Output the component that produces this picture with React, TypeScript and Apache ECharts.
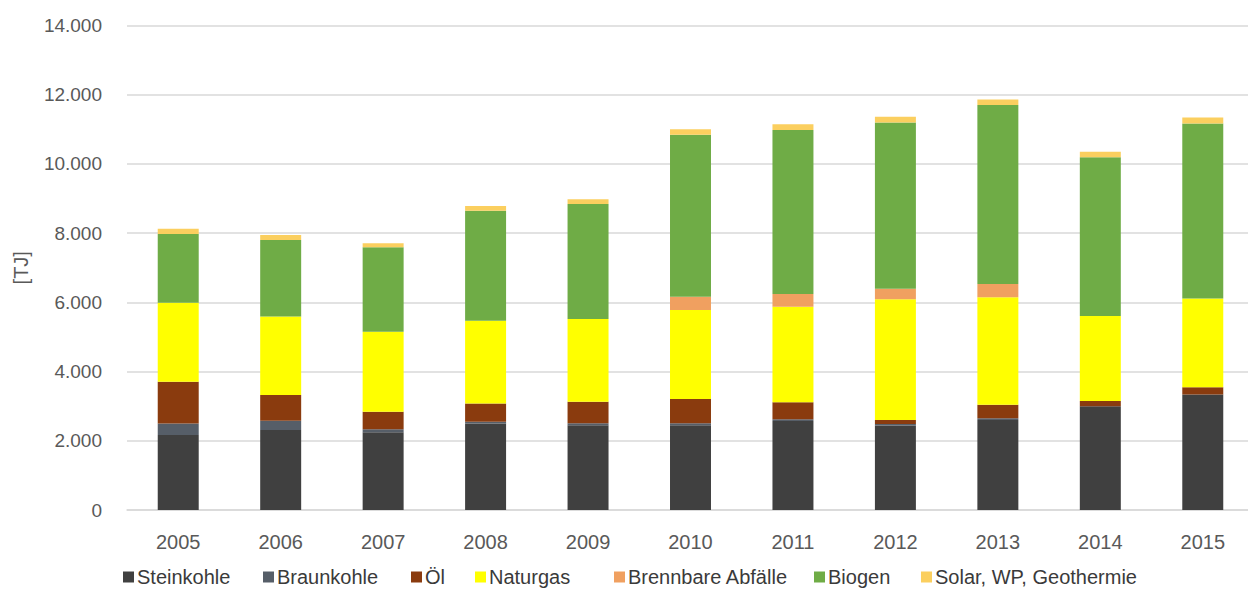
import React, { useEffect, useRef } from "react";
import * as echarts from "echarts";

const years = ["2005", "2006", "2007", "2008", "2009", "2010", "2011", "2012", "2013", "2014", "2015"];
const steinkohle = [2170, 2310, 2250, 2500, 2450, 2450, 2570, 2440, 2600, 3000, 3340];
const braunkohle = [330, 270, 80, 50, 55, 55, 50, 45, 50, 0, 0];
const oel = [1205, 740, 510, 530, 625, 700, 490, 115, 390, 150, 205];
const naturgas = [2285, 2270, 2310, 2390, 2390, 2575, 2765, 3490, 3105, 2455, 2570];
const abfaelle = [0, 0, 0, 0, 0, 385, 365, 305, 385, 0, 0];
const biogen = [1985, 2210, 2440, 3180, 3320, 4675, 4740, 4805, 5170, 4585, 5055];
const solar = [155, 145, 115, 135, 140, 160, 165, 165, 165, 160, 175];

const seriesNames = ["Steinkohle", "Braunkohle", "Öl", "Naturgas", "Brennbare Abfälle", "Biogen", "Solar, WP, Geothermie"];
const seriesData = [steinkohle, braunkohle, oel, naturgas, abfaelle, biogen, solar];
const seriesColors = ["#404040", "#565e68", "#8a3b0e", "#ffff00", "#f0a060", "#6fac46", "#fbcf5f"];
const legendLeft = [118, 258, 406, 470, 609, 809, 916];

const FONT = "'Liberation Sans', Arial, sans-serif";

function fmt(v: number): string {
  return String(v).replace(/\B(?=(\d{3})+(?!\d))/g, ".");
}

export default function App() {
  const ref = useRef<HTMLDivElement>(null);
  useEffect(() => {
    if (!ref.current) return;
    const chart = echarts.init(ref.current, undefined, { renderer: "svg" });
    chart.setOption({
      animation: false,
      backgroundColor: "#ffffff",
      textStyle: { fontFamily: FONT },
      grid: { left: 127, right: -6, top: 25.5, bottom: 100, containLabel: false, outerBoundsMode: "none" },
      legend: seriesNames.map((n, i) => ({
        data: [n],
        left: legendLeft[i],
        top: 562,
        itemWidth: 11,
        itemHeight: 11,
        itemGap: 0,
        icon: "rect",
        textStyle: { fontSize: 20, color: "#3a3a3a", fontFamily: FONT, padding: [0, 0, 0, -2] },
      })),
      xAxis: {
        type: "category",
        data: years,
        axisLine: { show: true, lineStyle: { color: "#d9d9d9", width: 1.5 } },
        axisTick: { show: false },
        axisLabel: { color: "#595959", fontSize: 20, margin: 22, fontFamily: FONT },
      },
      yAxis: {
        type: "value",
        min: 0,
        max: 14000,
        interval: 2000,
        name: "[TJ]",
        nameLocation: "middle",
        nameGap: 96,
        nameRotate: 90,
        nameTextStyle: { color: "#595959", fontSize: 20, fontFamily: FONT },
        axisLine: { show: false },
        axisTick: { show: false },
        splitLine: { lineStyle: { color: "#d9d9d9", width: 1.5 } },
        axisLabel: { color: "#595959", fontSize: 19, margin: 25, fontFamily: FONT, formatter: (v: number) => fmt(v) },
      },
      series: seriesNames.map((n, i) => ({
        name: n,
        type: "bar",
        stack: "total",
        barWidth: "40%",
        data: seriesData[i],
        itemStyle: { color: seriesColors[i] },
      })),
    });
    return () => chart.dispose();
  }, []);
  return <div ref={ref} style={{ position: "fixed", left: 0, top: 0, width: 1248, height: 610 }} />;
}
